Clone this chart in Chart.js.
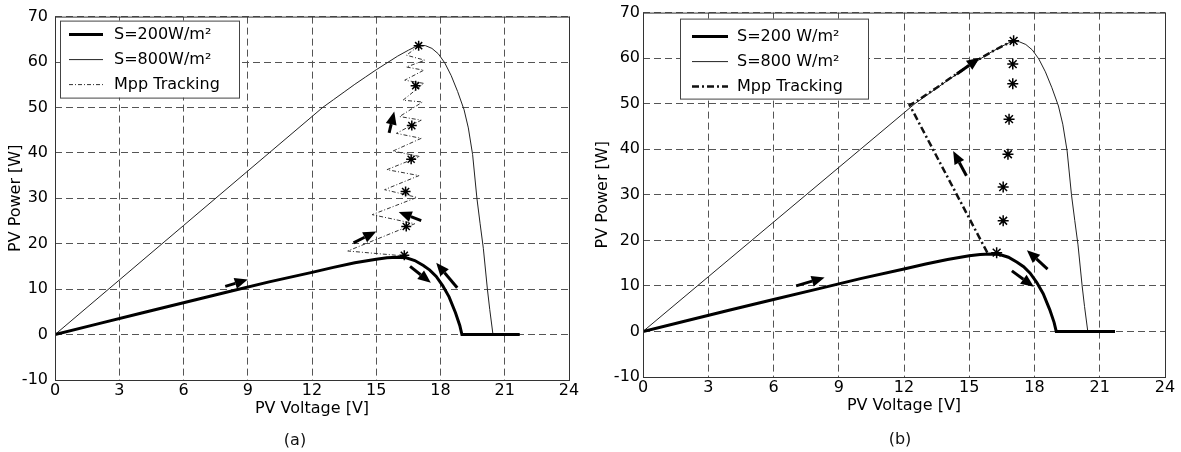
<!DOCTYPE html>
<html>
<head>
<meta charset="utf-8">
<script src="https://cdn.jsdelivr.net/npm/chart.js@4"></script>
<style>
  body { margin: 0; background: #fff; width: 1181px; height: 452px; overflow: hidden; position: relative; font-family: "DejaVu Sans", sans-serif; }
  canvas { position: absolute; top: 0; }
  #chartA { left: 0; }
  #chartB { left: 590px; }
  .cap { position: absolute; font-size: 16px; line-height: 19px; color: #111; transform: translateX(-50%); }
</style>
</head>
<body>
<canvas id="chartA" width="590" height="452"></canvas>
<canvas id="chartB" width="591" height="452"></canvas>
<div class="cap" style="left:295px; top:430px">(a)</div>
<div class="cap" style="left:900px; top:429px">(b)</div>
<script>
const xTicks = [0, 3, 6, 9, 12, 15, 18, 21, 24];
const yTicks = [-10, 0, 10, 20, 30, 40, 50, 60, 70];

// S=200 W/m2 characteristic (same in both panels)
const v200 = [0, 2, 4, 6, 8, 10, 12, 13, 14, 15, 15.5, 16, 16.4, 16.8, 17.2, 17.5, 17.8, 18.1, 18.4, 18.7, 18.9, 19.0, 21.7];
const p200 = [0, 2.35, 4.7, 7.0, 9.3, 11.6, 13.7, 14.8, 15.8, 16.6, 16.9, 17.0, 16.9, 16.3, 15.2, 14.2, 12.8, 10.8, 8.3, 4.8, 2.0, 0, 0];

// S=800 W/m2 characteristic
const v800 = [0, 3, 6, 9, 12, 12.5, 13, 13.5, 14, 14.5, 15, 15.5, 16, 16.5, 16.8, 17.0, 17.3, 17.6, 17.9, 18.2, 18.5, 18.8, 19.1, 19.3, 19.5, 19.7, 19.85, 20.0, 20.19, 20.3, 20.45, 21.7];
const p800 = [0, 12, 24, 36, 48, 50, 51.7, 53.4, 55.1, 56.7, 58.3, 59.8, 61.3, 62.6, 63.3, 63.7, 63.6, 63.0, 61.8, 59.8, 57.0, 53.5, 49.5, 45.5, 39.6, 30, 24.4, 19, 10, 5.5, 0, 0];

// panel (a): zigzag tracking path and its stars
const trackVA = [16.33, 13.67, 16.8, 14.81, 16.9, 15.39, 17.0, 15.5, 17.03, 15.78, 17.1, 15.94, 17.1, 16.09, 17.16, 16.25, 17.22, 16.33, 17.22, 16.41, 17.27, 16.41, 17.0];
const trackPA = [17.3, 18.4, 24.4, 26.4, 30.2, 31.9, 35.0, 36.3, 39.2, 40.4, 43.2, 44.3, 47.2, 48.0, 51.2, 51.6, 55.3, 56.0, 58.2, 58.9, 60.4, 61.5, 63.6];
const starVA = [16.31, 16.4, 16.37, 16.63, 16.66, 16.84, 16.98];
const starPA = [17.45, 23.8, 31.5, 38.6, 46.0, 54.8, 63.6];

// panel (b)
const trackVB = [15.83, 12.26, 12.5, 13, 13.5, 14, 14.5, 15, 15.5, 16, 16.5, 16.8, 17.0];
const trackPB = [17.3, 49.7, 50.3, 51.9, 53.5, 55.2, 56.8, 58.4, 59.9, 61.3, 62.6, 63.3, 63.7];
const starVB = [16.26, 16.56, 16.56, 16.78, 16.83, 17.0, 17.0, 17.04];
const starPB = [17.3, 24.3, 31.7, 38.9, 46.6, 54.4, 58.7, 63.8];

// arrows: [fromV, fromP, toV, toP]
const arrowsA = [
  [7.95, 10.6, 9.0, 12.1],
  [16.58, 15.0, 17.55, 11.4],
  [18.78, 10.3, 17.8, 15.8],
  [13.94, 20.2, 15.0, 22.7],
  [17.1, 25.1, 16.05, 27.0],
  [15.6, 44.4, 15.84, 49.1]
];
const arrowsB = [
  [7.04, 10.0, 8.35, 11.85],
  [14.43, 56.5, 15.48, 60.1],
  [14.87, 34.2, 14.26, 39.6],
  [16.96, 13.3, 17.97, 9.8],
  [18.6, 13.7, 17.65, 17.85]
];

const labelsA = ['S=200W/m²', 'S=800W/m²', 'Mpp Tracking'];
const labelsB = ['S=200 W/m²', 'S=800 W/m²', 'Mpp Tracking'];

Chart.defaults.font.family = '"DejaVu Sans", sans-serif';
Chart.defaults.font.size = 16;
Chart.defaults.color = '#000';

const pts = (xs, ys) => xs.map((x, i) => ({ x: x, y: ys[i] }));

const frame = {
  id: 'frame',
  afterDraw(chart) {
    const { ctx, chartArea: a } = chart;
    ctx.save();
    ctx.strokeStyle = '#333';
    ctx.lineWidth = 1;
    ctx.strokeRect(a.left + 0.5, a.top + 0.5, a.right - a.left, a.bottom - a.top);
    ctx.restore();
  }
};

const boxLegend = {
  id: 'boxLegend',
  afterDatasetsDraw(chart, args, o) {
    const { ctx, chartArea } = chart;
    const x = chartArea.left + o.x, y = chartArea.top + o.y;
    ctx.save();
    ctx.fillStyle = '#fff';
    ctx.fillRect(x, y, o.w, o.h);
    ctx.strokeStyle = '#444';
    ctx.lineWidth = 1;
    ctx.strokeRect(x + 0.5, y + 0.5, o.w, o.h);
    ctx.font = '16px "DejaVu Sans"';
    ctx.textBaseline = 'middle';
    chart.data.datasets.filter(d => d.label).forEach((d, i) => {
      const ry = y + o.rowY + i * o.rowH;
      ctx.beginPath();
      ctx.setLineDash(d.borderDash || []);
      ctx.lineWidth = d.borderWidth;
      ctx.strokeStyle = d.borderColor;
      ctx.moveTo(x + o.lineX, ry);
      ctx.lineTo(x + o.lineX + o.lineW, ry);
      ctx.stroke();
      ctx.setLineDash([]);
      ctx.fillStyle = '#000';
      ctx.fillText(d.label, x + o.textX, ry);
    });
    ctx.restore();
  }
};

function arrowLayer(list) {
  return {
    id: 'arrows',
    afterDatasetsDraw(chart) {
      const { ctx, scales: { x, y } } = chart;
      ctx.save();
      ctx.fillStyle = '#000';
      ctx.strokeStyle = '#000';
      ctx.lineWidth = 3;
      list.forEach(([x1, y1, x2, y2]) => {
        const ax = x.getPixelForValue(x1), ay = y.getPixelForValue(y1);
        const bx = x.getPixelForValue(x2), by = y.getPixelForValue(y2);
        const ang = Math.atan2(by - ay, bx - ax);
        const head = 13, half = 5.5;
        const cx = bx - head * Math.cos(ang), cy = by - head * Math.sin(ang);
        ctx.beginPath();
        ctx.moveTo(ax, ay);
        ctx.lineTo(cx, cy);
        ctx.stroke();
        ctx.beginPath();
        ctx.moveTo(bx, by);
        ctx.lineTo(cx + half * Math.sin(ang), cy - half * Math.cos(ang));
        ctx.lineTo(cx - half * Math.sin(ang), cy + half * Math.cos(ang));
        ctx.closePath();
        ctx.fill();
      });
      ctx.restore();
    }
  };
}

function panel(id, o) {
  const grid = { color: '#555', lineWidth: 1, drawTicks: false };
  const border = { display: false, dash: [7, 4] };
  return new Chart(document.getElementById(id), {
    type: 'scatter',
    data: {
      datasets: [
        { label: o.labels[0], data: pts(v200, p200), showLine: true, borderColor: '#000', borderWidth: 3, pointRadius: 0, order: 1 },
        { label: o.labels[1], data: pts(v800, p800), showLine: true, borderColor: '#222', borderWidth: 1, pointRadius: 0, order: 3 },
        { label: o.labels[2], data: pts(o.trackV, o.trackP), showLine: true, borderColor: o.trackColor, borderWidth: o.trackWidth, borderDash: o.trackDash, pointRadius: 0, order: 2 },
        { data: pts(o.starV, o.starP), pointStyle: 'star', pointRadius: o.starSize, borderColor: '#000', borderWidth: 1.5, order: 0 }
      ]
    },
    options: {
      responsive: false,
      animation: false,
      layout: { padding: o.padding },
      scales: {
        x: {
          type: 'linear', min: 0, max: 24,
          afterBuildTicks: s => { s.ticks = xTicks.map(v => ({ value: v })); },
          afterFit: s => { s.height = 40; },
          grid: grid, border: border,
          ticks: { padding: 1, autoSkip: false, maxRotation: 0 },
          title: { display: true, text: 'PV Voltage [V]', padding: { top: 0, bottom: 2 } }
        },
        y: {
          type: 'linear', min: -10, max: 70,
          afterBuildTicks: s => { s.ticks = yTicks.map(v => ({ value: v })); },
          afterFit: s => { s.width = o.yWidth; },
          grid: grid, border: border,
          ticks: { padding: o.yTickPad, autoSkip: false },
          title: { display: true, text: 'PV Power [W]', padding: { top: o.yTitlePad, bottom: 0 } }
        }
      },
      plugins: {
        legend: { display: false },
        tooltip: { enabled: false },
        boxLegend: o.legend
      }
    },
    plugins: [frame, arrowLayer(o.arrows), boxLegend]
  });
}

panel('chartA', {
  labels: labelsA,
  trackV: trackVA, trackP: trackPA, trackColor: '#333', trackWidth: 1, trackDash: [4, 2, 1, 2],
  starV: starVA, starP: starPA, starSize: 5,
  arrows: arrowsA,
  padding: { top: 15, right: 21, bottom: 32, left: 0 },
  yWidth: 55, yTickPad: 7, yTitlePad: 6,
  legend: { x: 5, y: 4, w: 179, h: 77, lineX: 9, lineW: 34, textX: 54, rowY: 14, rowH: 25 }
});

panel('chartB', {
  labels: labelsB,
  trackV: trackVB, trackP: trackPB, trackColor: '#111', trackWidth: 2.5, trackDash: [7, 3, 2, 3],
  starV: starVB, starP: starPB, starSize: 5.5,
  arrows: arrowsB,
  padding: { top: 12, right: 16, bottom: 35, left: 0 },
  yWidth: 53, yTickPad: 3, yTitlePad: 3,
  legend: { x: 37, y: 6, w: 188, h: 80, lineX: 12, lineW: 36, textX: 57, rowY: 18, rowH: 25 }
});
</script>
</body>
</html>
